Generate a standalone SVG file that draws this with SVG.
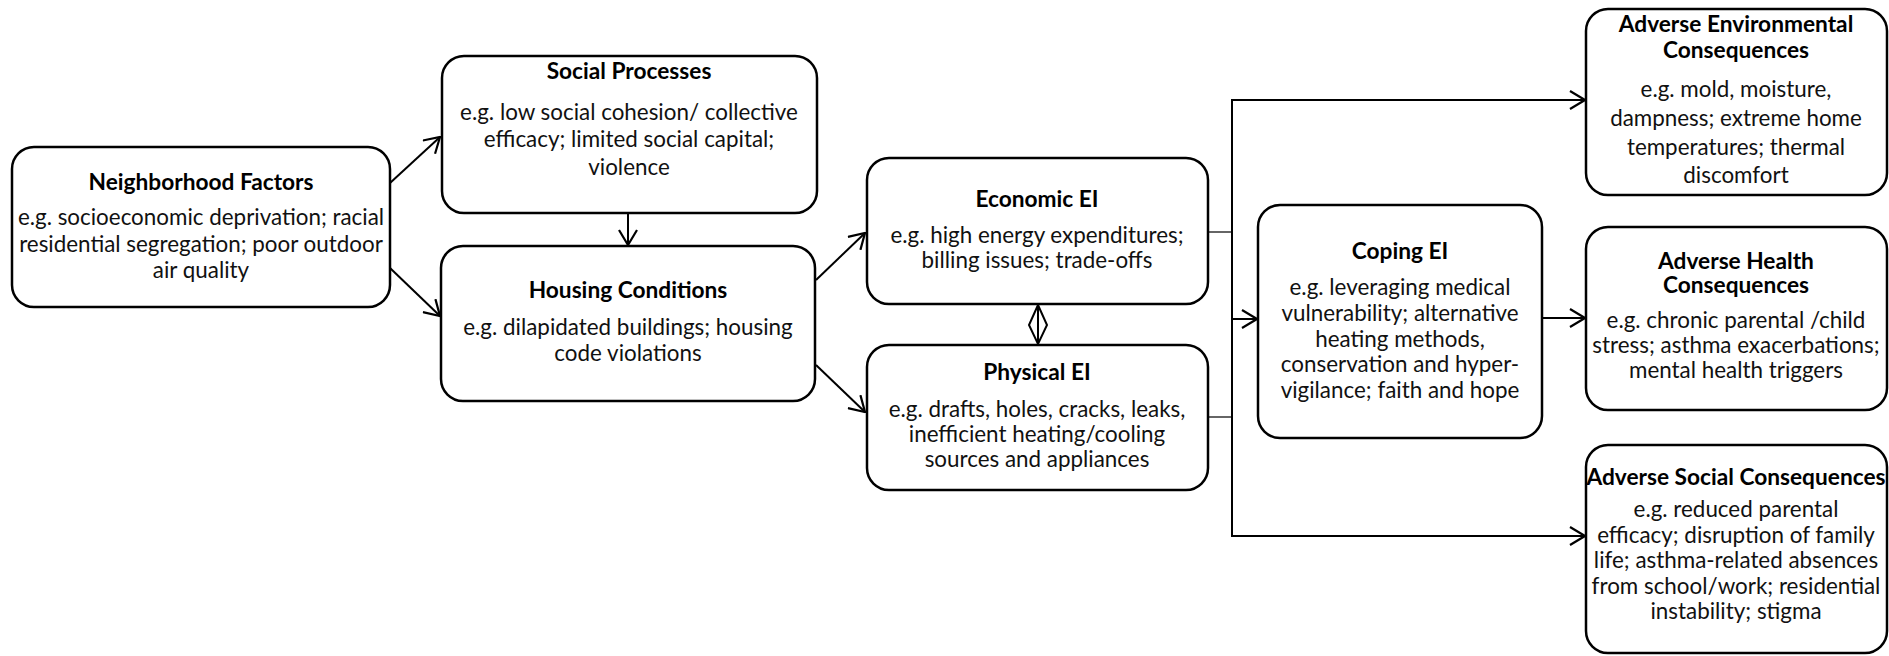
<svg xmlns="http://www.w3.org/2000/svg" width="1889" height="656" viewBox="0 0 1889 656">
  <style>
    .box { fill: #ffffff; stroke: #000000; stroke-width: 2.5; }
    .title { font-family: Lato, "Liberation Sans", sans-serif; font-weight: bold; font-size: 22.7px; text-anchor: middle; fill: #000; }
    .body { font-family: Lato, "Liberation Sans", sans-serif; font-size: 22.4px; text-anchor: middle; fill: #111; }
    .arrow { fill: none; stroke: #000; stroke-width: 2; marker-end: url(#open); }
    .thin { fill: none; stroke: #000; stroke-width: 1.2; }
    .bus { fill: none; stroke: #000; stroke-width: 2; }
  </style>
  <defs>
    <marker id="open" viewBox="0 0 17 20" refX="16" refY="10" markerWidth="17" markerHeight="20" markerUnits="userSpaceOnUse" orient="auto">
      <path d="M1,1 L16,10 L1,19" fill="none" stroke="#000" stroke-width="2.2"/>
    </marker>
  </defs>
  <rect width="1889" height="656" fill="#ffffff"/>

  <g id="connectors">
    <line class="arrow" x1="390" y1="183" x2="440" y2="137"/>
    <line class="arrow" x1="390" y1="268" x2="440" y2="316"/>
    <line class="arrow" x1="628" y1="213" x2="628" y2="245"/>
    <line class="arrow" x1="816" y1="280" x2="865" y2="233"/>
    <line class="arrow" x1="816" y1="365" x2="865" y2="412"/>
    <!-- two-way link between economic and physical -->
    <line class="bus" x1="1038" y1="305" x2="1038" y2="344"/>
    <polygon points="1038,305 1047,325 1038,344 1029,325" fill="none" stroke="#000" stroke-width="2"/>
    <line class="thin" x1="1208" y1="232" x2="1232" y2="232"/>
    <line class="thin" x1="1208" y1="417" x2="1232" y2="417"/>
    <line class="bus" x1="1232" y1="99" x2="1232" y2="537"/>
    <line class="arrow" x1="1231" y1="100" x2="1585" y2="100"/>
    <line class="arrow" x1="1231" y1="319" x2="1257" y2="319"/>
    <line class="arrow" x1="1231" y1="536" x2="1585" y2="536"/>
    <line class="arrow" x1="1542" y1="318" x2="1585" y2="318"/>
  </g>

  <g id="neighborhood">
    <rect class="box" x="12" y="147" width="378" height="160" rx="22"/>
    <text class="title" x="201" y="190">Neighborhood Factors</text>
    <text class="body" x="201" y="225">e.g. socioeconomic deprivation; racial</text>
    <text class="body" x="201" y="252">residential segregation; poor outdoor</text>
    <text class="body" x="201" y="278">air quality</text>
  </g>

  <g id="social-processes">
    <rect class="box" x="442" y="56" width="375" height="157" rx="22"/>
    <text class="title" x="629" y="79">Social Processes</text>
    <text class="body" x="629" y="120">e.g. low social cohesion/ collective</text>
    <text class="body" x="629" y="147">efficacy; limited social capital;</text>
    <text class="body" x="629" y="175">violence</text>
  </g>

  <g id="housing-conditions">
    <rect class="box" x="441" y="246" width="374" height="155" rx="22"/>
    <text class="title" x="628" y="298">Housing Conditions</text>
    <text class="body" x="628" y="335">e.g. dilapidated buildings; housing</text>
    <text class="body" x="628" y="361">code violations</text>
  </g>

  <g id="economic-ei">
    <rect class="box" x="867" y="158" width="341" height="146" rx="22"/>
    <text class="title" x="1037" y="207">Economic EI</text>
    <text class="body" x="1037" y="243">e.g. high energy expenditures;</text>
    <text class="body" x="1037" y="268">billing issues; trade-offs</text>
  </g>

  <g id="physical-ei">
    <rect class="box" x="867" y="345" width="341" height="145" rx="22"/>
    <text class="title" x="1037" y="380">Physical EI</text>
    <text class="body" x="1037" y="417">e.g. drafts, holes, cracks, leaks,</text>
    <text class="body" x="1037" y="442">inefficient heating/cooling</text>
    <text class="body" x="1037" y="467">sources and appliances</text>
  </g>

  <g id="coping-ei">
    <rect class="box" x="1258" y="205" width="284" height="233" rx="22"/>
    <text class="title" x="1400" y="259">Coping EI</text>
    <text class="body" x="1400" y="295">e.g. leveraging medical</text>
    <text class="body" x="1400" y="321">vulnerability; alternative</text>
    <text class="body" x="1400" y="347">heating methods,</text>
    <text class="body" x="1400" y="372">conservation and hyper-</text>
    <text class="body" x="1400" y="398">vigilance; faith and hope</text>
  </g>

  <g id="adverse-environmental">
    <rect class="box" x="1586" y="9" width="301" height="186" rx="22"/>
    <text class="title" x="1736" y="32">Adverse Environmental</text>
    <text class="title" x="1736" y="58">Consequences</text>
    <text class="body" x="1736" y="97">e.g. mold, moisture,</text>
    <text class="body" x="1736" y="126">dampness; extreme home</text>
    <text class="body" x="1736" y="155">temperatures; thermal</text>
    <text class="body" x="1736" y="183">discomfort</text>
  </g>

  <g id="adverse-health">
    <rect class="box" x="1586" y="227" width="301" height="183" rx="22"/>
    <text class="title" x="1736" y="269">Adverse Health</text>
    <text class="title" x="1736" y="293">Consequences</text>
    <text class="body" x="1736" y="328">e.g. chronic parental /child</text>
    <text class="body" x="1736" y="353">stress; asthma exacerbations;</text>
    <text class="body" x="1736" y="378">mental health triggers</text>
  </g>

  <g id="adverse-social">
    <rect class="box" x="1586" y="445" width="301" height="208" rx="22"/>
    <text class="title" x="1736" y="485">Adverse Social Consequences</text>
    <text class="body" x="1736" y="517">e.g. reduced parental</text>
    <text class="body" x="1736" y="543">efficacy; disruption of family</text>
    <text class="body" x="1736" y="568">life; asthma-related absences</text>
    <text class="body" x="1736" y="594">from school/work; residential</text>
    <text class="body" x="1736" y="619">instability; stigma</text>
  </g>
</svg>
